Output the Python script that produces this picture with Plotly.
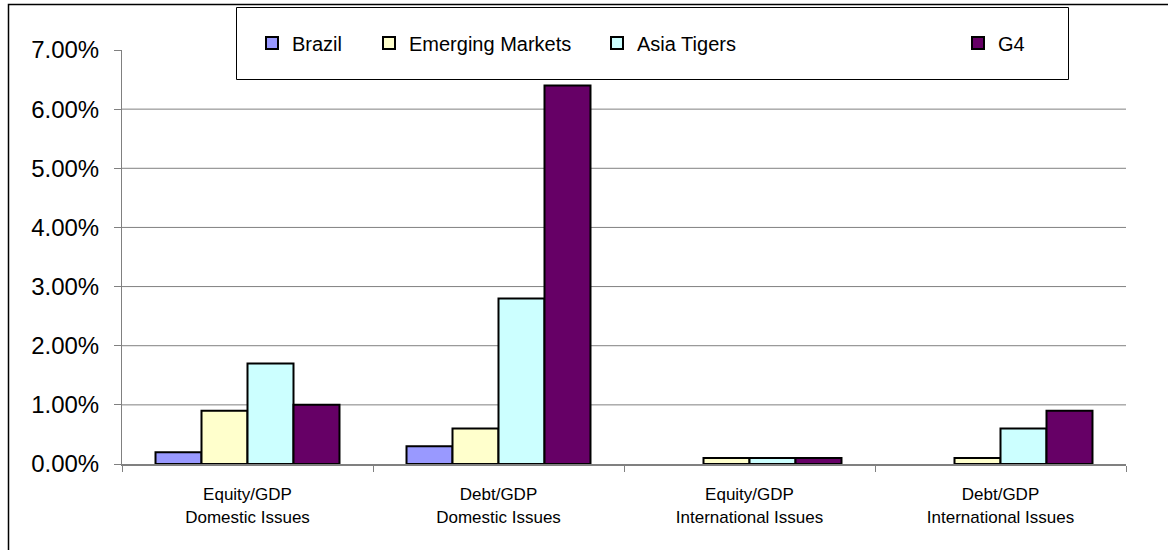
import plotly.graph_objects as go

categories = ["Equity/GDP<br>Domestic Issues", "Debt/GDP<br>Domestic Issues",
              "Equity/GDP<br>International Issues", "Debt/GDP<br>International Issues"]
series_names = ["Brazil", "Emerging Markets", "Asia Tigers", "G4"]
brazil = [0.002, 0.003, None, None]
emerging = [0.009, 0.006, 0.001, 0.001]
asia_tigers = [0.017, 0.028, 0.001, 0.006]
g4 = [0.010, 0.064, 0.001, 0.009]
y_ticks = [0, 0.01, 0.02, 0.03, 0.04, 0.05, 0.06, 0.07]
grid_values = [0.01, 0.02, 0.03, 0.04, 0.05, 0.06]

colors = ["#9999FF", "#FFFFCC", "#CCFFFF", "#660066"]
values = [brazil, emerging, asia_tigers, g4]
FONT = "Liberation Sans, Arial, sans-serif"

# plot area geometry (pixels)
L, R, T, B = 122, 42, 50, 86
W = 1168 - L - R
H = 550 - T - B

def px_x(p):
    return (p - L) / W

def px_y(p):
    return (550 - B - p) / H

legend_centers = [276, 393, 621, 982]
legend_keys = ["legend", "legend2", "legend3", "legend4"]

fig = go.Figure()
for name, vals, col, lk in zip(series_names, values, colors, legend_keys):
    fig.add_trace(go.Bar(
        name=name, x=categories, y=vals,
        marker=dict(color=col, line=dict(color="black", width=2)),
        legend=lk,
    ))

layout_legends = {}
for lk, cx in zip(legend_keys, legend_centers):
    layout_legends[lk] = dict(
        x=px_x(cx - 24), xanchor="left", y=px_y(43), yanchor="middle",
        orientation="h", bgcolor="rgba(0,0,0,0)", borderwidth=0,
        font=dict(family=FONT, size=20, color="black"),
    )

shapes = []
for g in grid_values:
    shapes.append(dict(type="line", xref="paper", yref="y", x0=0, x1=1, y0=g, y1=g,
                       line=dict(color="#808080", width=1), layer="below"))
# outer chart border (extends past right and bottom edge)
shapes.append(dict(type="rect", xref="paper", yref="paper",
                   x0=px_x(8.5), x1=px_x(1200), y0=px_y(600), y1=px_y(4.5),
                   line=dict(color="black", width=1.5), fillcolor="rgba(0,0,0,0)"))
# legend box
shapes.append(dict(type="rect", xref="paper", yref="paper",
                   x0=px_x(236.5), x1=px_x(1068.5), y0=px_y(79.5), y1=px_y(7.5),
                   line=dict(color="black", width=1), fillcolor="white", layer="below"))

fig.update_layout(
    width=1168, height=550,
    margin=dict(l=L, r=R, t=T, b=B, pad=0),
    paper_bgcolor="white", plot_bgcolor="white",
    barmode="group", bargap=0.267, bargroupgap=0,
    showlegend=True,
    shapes=shapes,
    font=dict(family=FONT, color="black"),
    xaxis=dict(
        type="category", showgrid=False, showline=True, linecolor="#808080", linewidth=2,
        ticks="outside", ticklen=6, tickcolor="#808080", tickwidth=1, tickson="boundaries",
        tickfont=dict(family=FONT, size=17, color="black"), ticklabelstandoff=14,
        zeroline=False,
    ),
    yaxis=dict(
        range=[0, 0.07], tickvals=y_ticks, tickformat=".2%", showgrid=False,
        showline=True, linecolor="#808080", linewidth=1,
        ticks="outside", ticklen=7, tickcolor="#808080",
        tickfont=dict(family=FONT, size=24, color="black"), ticklabelstandoff=10,
        zeroline=False,
    ),
    **layout_legends,
)

fig.write_html("out.html")
